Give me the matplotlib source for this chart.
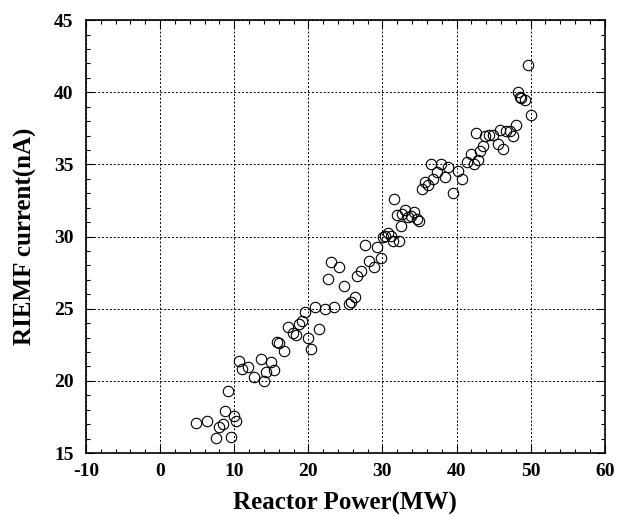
import numpy as np
import matplotlib.pyplot as plt
from matplotlib.ticker import MultipleLocator

# reactor power (MW) vs RIEMF current (nA)
power = [4.8, 6.3, 7.6, 8.0, 8.5, 8.8, 9.2, 9.6, 10.0, 10.3,
         10.7, 11.1, 11.8, 12.7, 13.6, 14.0, 14.3, 14.9, 15.4, 15.8,
         16.1, 16.7, 17.3, 17.9, 18.3, 18.8, 19.2, 19.5, 20.0, 20.4,
         20.9, 21.5, 22.2, 22.6, 23.0, 23.5, 24.2, 24.8, 25.5, 25.8,
         26.3, 26.6, 27.1, 27.7, 28.2, 28.8, 29.3, 29.8, 30.1, 30.4,
         30.8, 31.1, 31.4, 31.6, 31.9, 32.2, 32.5, 32.7, 33.1, 33.4,
         33.8, 34.2, 34.6, 35.0, 35.4, 35.8, 36.2, 36.5, 36.8, 37.3,
         37.9, 38.4, 38.9, 39.5, 40.2, 40.8, 41.4, 42.0, 42.3, 42.6,
         42.9, 43.2, 43.6, 43.9, 44.4, 44.9, 45.6, 45.9, 46.3, 46.7,
         47.2, 47.6, 48.0, 48.3, 48.5, 48.7, 49.2, 49.6, 50.0]
current = [17.1, 17.25, 16.05, 16.8, 17.0, 17.9, 19.3, 16.1, 17.6, 17.2,
           21.4, 20.8, 20.95, 20.3, 21.55, 20.0, 20.65, 21.3, 20.75, 22.7,
           22.6, 22.05, 23.75, 23.3, 23.15, 23.95, 24.15, 24.75, 23.0, 22.2,
           25.15, 23.6, 25.0, 27.05, 28.25, 25.15, 27.9, 26.55, 25.35, 25.45,
           25.8, 27.25, 27.6, 29.4, 28.3, 27.9, 29.25, 28.55, 30.0, 30.05,
           30.25, 30.05, 29.7, 32.6, 31.5, 29.7, 30.7, 31.55, 31.85, 31.35,
           31.45, 31.7, 31.25, 31.05, 33.3, 33.8, 33.6, 35.0, 34.0, 34.5,
           35.0, 34.15, 34.85, 33.05, 34.55, 34.0, 35.2, 35.75, 35.0, 37.2,
           35.3, 35.95, 36.25, 36.95, 37.05, 37.05, 36.4, 37.4, 36.05, 37.3,
           37.3, 36.95, 37.75, 40.0, 39.7, 39.6, 39.45, 41.9, 38.4]

plt.rcParams['font.family'] = ['Liberation Serif', 'DejaVu Serif']
plt.rcParams['font.weight'] = 'bold'
plt.rcParams['axes.unicode_minus'] = False

fig = plt.figure(figsize=(6.25, 5.16), dpi=100)
ax = fig.add_axes([0.1376, 0.122, 0.830, 0.839])

ax.plot(power, current, 'o', mfc='none', mec='black', ms=7.5, mew=0.8)

ax.set_xlim(-10, 60)
ax.set_ylim(15, 45)
ax.xaxis.set_major_locator(MultipleLocator(10))
ax.xaxis.set_minor_locator(MultipleLocator(2))
ax.yaxis.set_major_locator(MultipleLocator(5))
ax.yaxis.set_minor_locator(MultipleLocator(1))
ax.tick_params(which='both', direction='in', top=True, right=True, width=0.8)
ax.tick_params(which='major', length=6, labelsize=14)
ax.tick_params(axis='x', which='major', pad=7)
ax.tick_params(axis='y', which='major', pad=9)
ax.tick_params(which='minor', length=3)
ax.grid(True, which='major', linestyle=(0, (2, 2)), color='black', linewidth=0.7)
for s in ax.spines.values():
    s.set_linewidth(1.2)

ax.set_xlabel("Reactor Power(MW)", fontsize=18, fontweight='bold', labelpad=9)
ax.set_ylabel("RIEMF current(nA)", fontsize=18, fontweight='bold', labelpad=12)

fig.savefig("out.png", dpi=100)
